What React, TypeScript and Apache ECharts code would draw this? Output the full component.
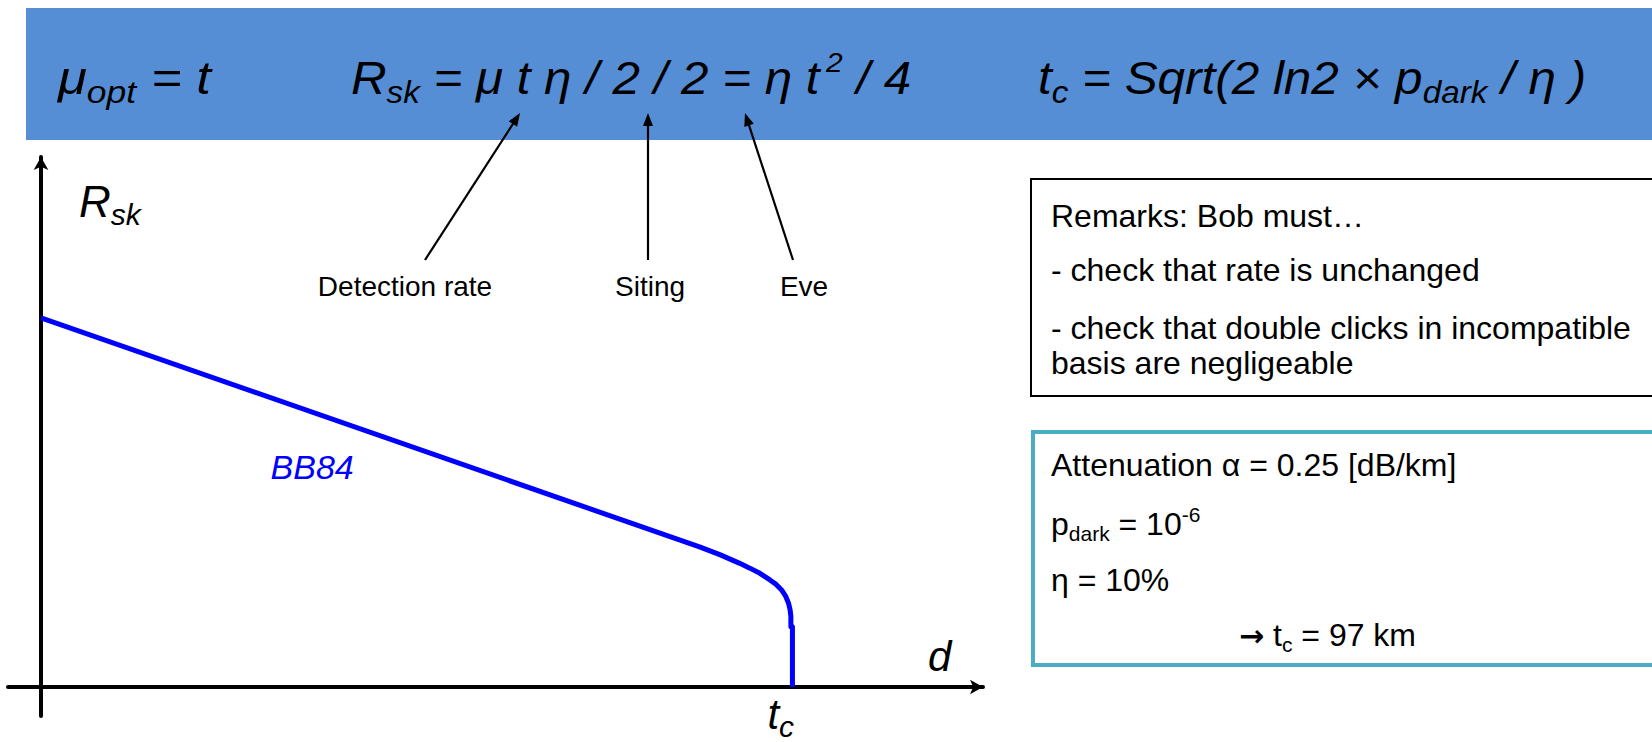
import React, { useEffect, useRef } from 'react';
import * as echarts from 'echarts';

// ---- data ----
const distanceKm = [0, 82.5, 85.1, 87.7, 90.2, 91.5, 92.8, 94.1, 94.9, 95.6, 96.1, 96.5, 96.7, 96.8, 96.8, 97, 97];
const rateValues = [1.0, 0.398, 0.379, 0.358, 0.335, 0.322, 0.308, 0.29, 0.278, 0.263, 0.247, 0.227, 0.209, 0.191, 0.163, 0.163, 0];
const criticalDistanceKm = 97;
const xRange = [-4.26, 121.6];
const yRange = [-0.0786, 1.436];
const seriesName = 'BB84';
const seriesLabelAnchor = [35, 0.596];
const annotationLabels = ['Detection rate', 'Siting', 'Eve'];
const remarksLines = [
  'Remarks: Bob must…',
  '- check that rate is unchanged',
  '- check that double clicks in incompatible',
  'basis are negligeable',
];

const FONT = '"Liberation Sans", Arial, Helvetica, sans-serif';

type Tok = [string, string];

function richString(tokens: Tok[]) {
  return tokens.map(([k, t]) => `{${k}|${t}}`).join('');
}

function measure(tokens: Tok[], styles: any) {
  const c = document.createElement('canvas').getContext('2d') as CanvasRenderingContext2D;
  let w = 0;
  for (const [k, t] of tokens) {
    const s = styles[k];
    const fam = s.fontFamily || FONT;
    c.font = `${s.fontStyle || 'normal'} ${s.fontWeight || 'normal'} ${s.fontSize}px ${fam}`;
    w += c.measureText(t).width;
    if (s.padding) w += (s.padding[1] || 0) + (s.padding[3] || 0);
  }
  return w;
}

const formulaRich = {
  m: { fontSize: 46, fontStyle: 'italic', fontFamily: FONT, lineHeight: 60, fill: '#000' },
  s: { fontSize: 31, fontStyle: 'italic', fontFamily: FONT, lineHeight: 32, verticalAlign: 'bottom', fill: '#000' },
  p: { fontSize: 28, fontStyle: 'italic', fontFamily: FONT, lineHeight: 36, verticalAlign: 'top', fill: '#000', padding: [0, 0, 0, 6] },
};

const boxRich = {
  m: { fontSize: 32, fontFamily: FONT, lineHeight: 40, fill: '#000' },
  s: { fontSize: 21, fontFamily: FONT, lineHeight: 18, verticalAlign: 'bottom', fill: '#000' },
  p: { fontSize: 21, fontFamily: FONT, lineHeight: 20, verticalAlign: 'top', fill: '#000' },
  a: { fontSize: 30, fontFamily: '"DejaVu Sans", sans-serif', fontWeight: 'bold', lineHeight: 40, fill: '#000' },
};

function richText(tokens: Tok[], rich: any, x: number, y: number, targetWidth?: number, align = 'left') {
  let scale = 1;
  if (targetWidth) scale = targetWidth / measure(tokens, rich);
  return {
    type: 'text',
    x,
    y,
    scaleX: scale,
    style: {
      text: richString(tokens),
      rich,
      align,
      verticalAlign: 'middle',
      fill: '#000',
    },
  };
}

function arrow(x1: number, y1: number, x2: number, y2: number) {
  const head = 13;
  const halfW = 5;
  const dx = x2 - x1;
  const dy = y2 - y1;
  const L = Math.hypot(dx, dy);
  const ux = dx / L;
  const uy = dy / L;
  const bx = x2 - ux * head;
  const by = y2 - uy * head;
  const px = -uy;
  const py = ux;
  return [
    { type: 'line', shape: { x1, y1, x2: bx + ux * 2, y2: by + uy * 2 }, style: { stroke: '#000', lineWidth: 2.2 } },
    {
      type: 'polygon',
      shape: { points: [[x2, y2], [bx + px * halfW, by + py * halfW], [bx - px * halfW, by - py * halfW]] },
      style: { fill: '#000' },
    },
  ];
}

function staticGraphics() {
  const g: any[] = [];
  g.push({ type: 'rect', shape: { x: 26, y: 8, width: 1640, height: 132 }, style: { fill: '#558ED5' } });
  g.push(richText([['m', 'μ'], ['s', 'opt'], ['m', ' = t']], formulaRich, 58, 78, 153));
  g.push(
    richText(
      [['m', 'R'], ['s', 'sk'], ['m', ' = μ t η / 2 / 2 = η t'], ['p', '2'], ['m', ' / 4']],
      formulaRich,
      351,
      78,
      560,
    ),
  );
  g.push(
    richText(
      [['m', 't'], ['s', 'c'], ['m', ' = Sqrt(2 ln2 × p'], ['s', 'dark'], ['m', ' / η )']],
      formulaRich,
      1038,
      78,
      548,
    ),
  );
  // annotation arrows
  g.push(...arrow(425, 260, 520, 113));
  g.push(...arrow(648, 260, 648, 113));
  g.push(...arrow(793, 260, 745, 113));
  const labelX = [405, 650, 804];
  annotationLabels.forEach((t, i) => {
    g.push({
      type: 'text',
      x: labelX[i],
      y: 286,
      style: { text: t, fontSize: 28, fontFamily: FONT, fill: '#000', align: 'center', verticalAlign: 'middle' },
    });
  });
  // axis titles
  g.push(
    richText(
      [['m', 'R'], ['s', 'sk']],
      {
        m: { fontSize: 44, fontStyle: 'italic', fontFamily: FONT, lineHeight: 56, fill: '#000' },
        s: { fontSize: 30, fontStyle: 'italic', fontFamily: FONT, lineHeight: 30, verticalAlign: 'bottom', fill: '#000' },
      },
      79,
      201,
    ),
  );
  g.push({
    type: 'text',
    x: 928,
    y: 656,
    style: { text: 'd', fontSize: 42, fontStyle: 'italic', fontFamily: FONT, fill: '#000', align: 'left', verticalAlign: 'middle' },
  });
  // remarks box
  g.push({ type: 'rect', shape: { x: 1031, y: 179, width: 700, height: 217 }, style: { fill: '#fff', stroke: '#000', lineWidth: 2 } });
  const remarkY = [216, 270, 328, 363];
  remarksLines.forEach((t, i) => {
    g.push({
      type: 'text',
      x: 1051,
      y: remarkY[i],
      style: { text: t, fontSize: 32, fontFamily: FONT, fill: '#000', align: 'left', verticalAlign: 'middle' },
    });
  });
  // parameters box
  g.push({ type: 'rect', shape: { x: 1033, y: 432, width: 700, height: 233 }, style: { fill: 'none', stroke: '#4BACC6', lineWidth: 4 } });
  g.push(richText([['m', 'Attenuation α = 0.25 [dB/km]']], boxRich, 1051, 465));
  g.push(richText([['m', 'p'], ['s', 'dark'], ['m', ' = 10'], ['p', '-6']], boxRich, 1051, 524));
  g.push(richText([['m', 'η = 10%']], boxRich, 1051, 580));
  g.push(richText([['a', '→'], ['m', ' t'], ['s', 'c'], ['m', ' = 97 km']], boxRich, 1239, 635));
  return g;
}

export default function App() {
  const ref = useRef<HTMLDivElement>(null);
  useEffect(() => {
    if (!ref.current) return;
    const chart = echarts.init(ref.current, null, { renderer: 'svg' });
    const axisCommon = {
      type: 'value',
      axisLine: {
        show: true,
        onZero: true,
        symbol: ['none', 'arrow'],
        symbolSize: [11, 13],
        lineStyle: { color: '#000', width: 4 },
      },
      axisTick: { show: false },
      axisLabel: { show: false },
      splitLine: { show: false },
    };
    chart.setOption({
      animation: false,
      grid: { left: 8, right: 669, top: 157, bottom: 26, containLabel: false, outerBoundsMode: 'none' },
      xAxis: { ...axisCommon, min: xRange[0], max: xRange[1] },
      yAxis: { ...axisCommon, min: yRange[0], max: yRange[1] },
      series: [
        {
          name: seriesName,
          type: 'line',
          data: distanceKm.map((d, i) => [d, rateValues[i]]),
          showSymbol: false,
          symbol: 'none',
          silent: true,
          clip: false,
          z: 3,
          lineStyle: { color: '#0000FF', width: 5, join: 'round' },
        },
      ],
    });
    const pc = chart.convertToPixel({ gridIndex: 0 }, [criticalDistanceKm, 0]) as number[];
    const pb = chart.convertToPixel({ gridIndex: 0 }, seriesLabelAnchor) as number[];
    const g = staticGraphics();
    g.push(
      richText(
        [['m', 't'], ['s', 'c']],
        {
          m: { fontSize: 42, fontStyle: 'italic', fontFamily: FONT, lineHeight: 54, fill: '#000' },
          s: { fontSize: 30, fontStyle: 'italic', fontFamily: FONT, lineHeight: 28, verticalAlign: 'bottom', fill: '#000' },
        },
        pc[0] - 25,
        pc[1] + 28,
      ),
    );
    g.push({
      type: 'text',
      x: pb[0],
      y: pb[1],
      style: { text: seriesName, fontSize: 34, fontStyle: 'italic', fontFamily: FONT, fill: '#0000FF', align: 'center', verticalAlign: 'middle' },
    });
    chart.setOption({ graphic: g });
    return () => chart.dispose();
  }, []);
  return <div ref={ref} style={{ position: 'fixed', left: 0, top: 0, width: 1652, height: 742, background: '#fff' }} />;
}
